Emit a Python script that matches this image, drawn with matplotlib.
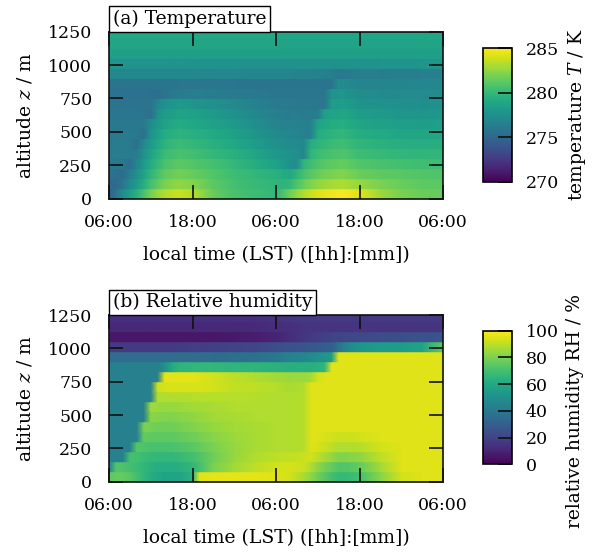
"""Two-panel time-height plot: temperature and relative humidity (viridis)."""

import matplotlib
import numpy as np

matplotlib.use("Agg")
import matplotlib.pyplot as plt

plt.rcParams["font.family"] = "DejaVu Serif"
plt.rcParams["mathtext.fontset"] = "dejavuserif"

# ---------------------------------------------------------------------------
# Data
# ---------------------------------------------------------------------------
# hours after 06:00 LST of the first day
hours_t = [0, 1, 2, 3, 4, 5, 6, 7, 8, 10, 12, 15, 18, 21, 24,
           25, 26, 27, 28, 29, 30, 31, 32, 33, 34, 36, 39, 42, 45, 48]
hours_rh = [0, 1, 2, 3, 4, 5, 6, 7, 8, 9, 10, 12, 13, 15, 18, 21, 24,
            26, 28, 29, 30, 31, 32, 33, 34, 36, 39, 42, 45, 48]

# model level edges (m), one band per row below
level_edges = [0, 75, 150, 225, 300, 375, 450, 525, 600, 675, 750,
               825, 900, 975, 1050, 1125, 1200, 1275]

# temperature (K), bottom level first, columns follow hours_t
temp_k = [
    [274.4, 275.9, 277.3, 278.4, 279.5, 280.7, 281.8, 282.6, 283.3, 283.8,
     283.3, 281.5, 280.7, 280.3, 280.0, 280.8, 281.7, 282.5, 283.3, 283.8,
     284.2, 284.5, 284.7, 284.8, 284.8, 284.3, 282.8, 282.0, 281.6, 281.5],
    [275.0, 275.2, 276.0, 277.2, 278.2, 279.4, 280.5, 281.3, 282.0, 282.5,
     282.2, 281.2, 280.5, 280.1, 279.8, 279.7, 280.0, 280.8, 281.6, 282.1,
     282.5, 282.8, 283.0, 283.1, 283.1, 282.6, 282.0, 281.6, 281.3, 281.2],
    [275.6, 275.6, 275.3, 276.5, 277.5, 278.7, 279.8, 280.6, 281.3, 281.8,
     281.5, 280.9, 280.3, 279.9, 279.5, 279.2, 279.0, 279.8, 280.6, 281.1,
     281.5, 281.8, 282.0, 282.1, 282.1, 281.6, 281.3, 281.1, 280.9, 280.8],
    [276.0, 276.0, 276.0, 275.5, 276.9, 278.1, 279.2, 280.0, 280.7, 281.2,
     281.0, 280.5, 280.0, 279.3, 278.6, 278.2, 277.6, 277.3, 279.9, 280.4,
     280.8, 281.1, 281.3, 281.4, 281.4, 280.9, 280.7, 280.5, 280.4, 280.3],
    [276.2, 276.2, 276.2, 276.2, 276.3, 277.6, 278.7, 279.5, 280.2, 280.7,
     280.5, 280.0, 279.5, 278.8, 278.0, 277.8, 277.7, 277.5, 276.9, 279.8,
     280.2, 280.5, 280.7, 280.8, 280.8, 280.3, 280.1, 279.9, 279.8, 279.8],
    [276.2, 276.2, 276.2, 276.2, 275.5, 277.1, 278.2, 279.0, 279.7, 280.2,
     280.0, 279.5, 279.0, 278.3, 277.5, 277.4, 277.3, 277.2, 277.0, 279.3,
     279.7, 280.0, 280.2, 280.3, 280.3, 279.8, 279.6, 279.4, 279.3, 279.4],
    [276.1, 276.1, 276.1, 276.1, 276.1, 275.5, 277.7, 278.5, 279.2, 279.7,
     279.5, 279.1, 278.6, 277.8, 277.1, 277.0, 276.9, 276.8, 276.6, 276.5,
     279.2, 279.5, 279.7, 279.8, 279.8, 279.3, 279.1, 278.9, 278.8, 279.0],
    [276.0, 276.0, 276.0, 276.0, 276.0, 276.0, 277.2, 278.0, 278.7, 279.2,
     279.0, 278.6, 278.1, 277.4, 276.8, 276.7, 276.6, 276.6, 276.5, 276.5,
     278.7, 279.0, 279.2, 279.3, 279.3, 278.8, 278.6, 278.4, 278.3, 278.5],
    [275.9, 275.9, 275.9, 275.9, 275.9, 275.9, 275.5, 277.5, 278.2, 278.7,
     278.5, 278.1, 277.6, 277.0, 276.5, 276.4, 276.3, 276.3, 276.2, 276.2,
     276.2, 278.5, 278.7, 278.8, 278.8, 278.3, 278.1, 277.9, 277.8, 278.0],
    [275.7, 275.7, 275.7, 275.7, 275.7, 275.7, 275.7, 276.9, 277.6, 278.1,
     277.9, 277.6, 277.1, 276.6, 276.2, 276.1, 276.1, 276.1, 276.0, 276.0,
     276.0, 275.9, 278.2, 278.3, 278.3, 277.8, 277.6, 277.5, 277.4, 277.7],
    [275.6, 275.6, 275.6, 275.6, 275.6, 275.6, 275.6, 275.4, 275.8, 276.3,
     276.4, 276.3, 276.2, 276.1, 275.9, 275.9, 275.9, 275.9, 275.9, 275.9,
     275.9, 275.9, 277.7, 277.8, 277.8, 277.3, 277.2, 277.1, 277.1, 277.2],
    [275.8, 275.8, 275.8, 275.8, 275.8, 275.8, 275.8, 275.8, 275.8, 275.9,
     275.9, 275.9, 275.9, 275.8, 275.8, 275.8, 275.8, 275.8, 275.8, 275.8,
     275.8, 275.8, 275.7, 277.3, 277.2, 276.8, 276.8, 276.8, 276.9, 276.9],
    [277.0, 277.0, 277.0, 277.0, 277.0, 277.0, 277.0, 277.0, 277.0, 277.0,
     277.0, 276.9, 276.9, 276.8, 276.8, 276.8, 276.8, 276.7, 276.7, 276.7,
     276.6, 276.5, 276.4, 276.0, 276.2, 276.3, 276.3, 276.4, 276.5, 276.5],
    [277.7, 277.7, 277.7, 277.7, 277.7, 277.7, 277.7, 277.7, 277.7, 277.7,
     277.7, 277.6, 277.6, 277.5, 277.5, 277.5, 277.5, 277.5, 277.5, 277.5,
     277.5, 277.5, 277.5, 277.6, 277.6, 277.6, 277.7, 277.7, 277.8, 277.8],
    [278.4, 278.4, 278.4, 278.4, 278.4, 278.4, 278.4, 278.4, 278.4, 278.4,
     278.4, 278.4, 278.4, 278.4, 278.4, 278.4, 278.4, 278.4, 278.4, 278.4,
     278.4, 278.4, 278.4, 278.4, 278.4, 278.4, 278.4, 278.4, 278.4, 278.4],
    [278.8, 278.8, 278.8, 278.8, 278.8, 278.8, 278.8, 278.8, 278.8, 278.8,
     278.8, 278.8, 278.8, 278.8, 278.8, 278.7, 278.7, 278.7, 278.7, 278.7,
     278.7, 278.7, 278.7, 278.7, 278.7, 278.7, 278.7, 278.7, 278.7, 278.7],
    [279.0, 279.0, 279.0, 279.0, 279.0, 279.0, 279.0, 279.0, 279.0, 279.0,
     279.0, 279.0, 279.0, 279.0, 279.0, 278.9, 278.9, 278.9, 278.9, 278.9,
     278.9, 278.9, 278.9, 278.9, 278.9, 278.9, 278.9, 278.9, 278.9, 278.9],
]

# relative humidity (%), bottom level first, columns follow hours_rh
rel_hum = [
    [75, 76, 76, 74, 70, 66, 62, 60, 58, 58, 58, 64, 95, 96, 96, 96, 95,
     93, 87, 83, 78, 74, 70, 67, 67, 70, 82, 93, 95, 95],
    [43, 72, 72, 70, 68, 66, 64, 62, 62, 62, 63, 66, 70, 80, 86, 90, 93,
     94, 92, 88, 83, 79, 76, 73, 73, 76, 86, 95, 95, 95],
    [43, 43, 43, 70, 70, 68, 67, 66, 66, 66, 67, 70, 72, 78, 84, 88, 90,
     91, 92, 93, 90, 87, 84, 81, 81, 83, 90, 95, 95, 95],
    [43, 43, 43, 43, 73, 72, 71, 71, 71, 71, 72, 74, 76, 80, 84, 87, 88,
     88, 89, 95, 94, 92, 90, 88, 88, 89, 93, 95, 95, 95],
    [43, 43, 43, 43, 43, 76, 75, 75, 75, 75, 76, 78, 79, 82, 85, 87, 88,
     88, 89, 95, 95, 94, 93, 92, 92, 93, 95, 95, 95, 95],
    [43, 43, 43, 43, 43, 79, 79, 78, 78, 78, 79, 81, 82, 84, 86, 87, 88,
     88, 89, 95, 95, 95, 95, 95, 95, 95, 95, 95, 95, 95],
    [43, 43, 43, 43, 43, 43, 82, 82, 81, 81, 82, 83, 84, 86, 87, 88, 88,
     88, 89, 95, 95, 95, 95, 95, 95, 95, 95, 95, 95, 95],
    [43, 43, 43, 43, 43, 43, 85, 85, 84, 84, 85, 86, 86, 87, 88, 88, 88,
     88, 89, 95, 95, 95, 95, 95, 95, 95, 95, 95, 95, 95],
    [43, 43, 43, 43, 43, 43, 43, 88, 88, 88, 88, 89, 89, 89, 89, 89, 88,
     88, 89, 95, 95, 95, 95, 95, 95, 95, 95, 95, 95, 95],
    [43, 43, 43, 43, 43, 43, 43, 92, 94, 94, 94, 94, 94, 93, 91, 90, 89,
     87, 88, 95, 95, 95, 95, 95, 95, 95, 95, 95, 95, 95],
    [43, 43, 43, 43, 43, 43, 43, 43, 96, 96, 96, 96, 95, 93, 90, 88, 86,
     85, 85, 86, 93, 95, 95, 95, 95, 95, 95, 95, 95, 95],
    [43, 43, 43, 43, 43, 43, 43, 43, 50, 60, 65, 66, 66, 66, 65, 65, 64,
     63, 63, 63, 64, 66, 95, 95, 95, 95, 95, 95, 95, 95],
    [35, 35, 35, 35, 35, 35, 35, 35, 35, 35, 35, 35, 35, 35, 36, 37, 40,
     44, 46, 48, 50, 52, 55, 95, 95, 95, 95, 95, 95, 95],
    [17, 17, 17, 17, 17, 17, 17, 17, 17, 17, 17, 18, 18, 19, 20, 21, 24,
     25, 26, 27, 28, 29, 30, 38, 45, 52, 55, 55, 58, 75],
    [6, 6, 6, 6, 6, 6, 6, 6, 6, 6, 6, 6, 6, 6, 7, 8, 10,
     13, 16, 17, 18, 19, 20, 20, 21, 22, 23, 24, 25, 26],
    [11, 11, 11, 11, 11, 11, 11, 11, 11, 11, 11, 11, 11, 11, 11, 12, 13,
     14, 15, 15, 15, 15, 15, 15, 15, 15, 15, 15, 15, 15],
    [14, 14, 14, 14, 14, 14, 14, 14, 14, 14, 14, 14, 14, 14, 14, 14, 15,
     16, 17, 17, 17, 17, 17, 17, 17, 17, 17, 17, 17, 17],
]

time_ticks = [0, 12, 24, 36, 48]
time_labels = ["06:00", "18:00", "06:00", "18:00", "06:00"]
alt_ticks = [0, 250, 500, 750, 1000, 1250]
temp_cbar_ticks = [270, 275, 280, 285]
rh_cbar_ticks = [0, 20, 40, 60, 80, 100]

TICK_FS = 12.5
LABEL_FS = 13.5


def band_mesh(hours, edges, rows):
    """Mesh for gouraud shading: smooth in time, sharp steps between levels."""
    vals = np.asarray(rows, dtype=float)
    edges = np.asarray(edges, dtype=float)
    ys = np.column_stack([edges[:-1], edges[1:]]).ravel()
    X, Y = np.meshgrid(np.asarray(hours, dtype=float), ys)
    C = np.repeat(vals, 2, axis=0)
    return X, Y, C


def draw_panel(fig, ax_rect, cax_rect, hours, rows, vmin, vmax, title,
               cbar_ticks, cbar_label, cbar_label_y=0.5):
    ax = fig.add_axes(ax_rect)
    X, Y, C = band_mesh(hours, level_edges, rows)
    mesh = ax.pcolormesh(X, Y, C, shading="gouraud", cmap="viridis",
                         vmin=vmin, vmax=vmax, antialiased=False)
    ax.set_xlim(0, 48)
    ax.set_ylim(0, 1250)
    ax.set_xticks(time_ticks)
    ax.set_xticklabels(time_labels)
    ax.set_yticks(alt_ticks)
    ax.tick_params(axis="both", direction="in", top=True, right=True,
                   length=10, width=1.2, labelsize=TICK_FS, color="#111111")
    ax.tick_params(axis="x", pad=11)
    ax.tick_params(axis="y", pad=12)
    for sp in ax.spines.values():
        sp.set_linewidth(1.2)
        sp.set_color("#111111")
    ax.set_xlabel("local time (LST) ([hh]:[mm])", fontsize=LABEL_FS,
                  labelpad=11)
    ax.set_ylabel("altitude $z$ / m", fontsize=LABEL_FS, labelpad=10)

    ax.annotate(title, xy=(0, 1), xycoords="axes fraction",
                xytext=(2.6, 2.6), textcoords="offset points",
                ha="left", va="bottom", fontsize=LABEL_FS,
                bbox=dict(boxstyle="square,pad=0.19", fc="white",
                          ec="black", lw=1.0))

    cax = fig.add_axes(cax_rect)
    cb = fig.colorbar(mesh, cax=cax)
    cb.set_ticks(cbar_ticks)
    cb.outline.set_linewidth(1.2)
    cb.ax.tick_params(direction="in", length=10, width=1.2,
                      labelsize=TICK_FS, pad=10, color="#111111")
    cb.set_label(cbar_label, fontsize=LABEL_FS, labelpad=5)
    cb.ax.yaxis.label.set_y(cbar_label_y)
    return ax, cb


fig = plt.figure(figsize=(5.94, 5.58), dpi=100)

draw_panel(fig, [0.1835, 0.6439, 0.5623, 0.2993],
           [0.8126, 0.6744, 0.0488, 0.2391],
           hours_t, temp_k, 270, 285, "(a) Temperature",
           temp_cbar_ticks, "temperature $T$ / K")

draw_panel(fig, [0.1835, 0.1367, 0.5623, 0.2987],
           [0.8126, 0.1679, 0.0488, 0.2394],
           hours_rh, rel_hum, 0, 100, "(b) Relative humidity",
           rh_cbar_ticks, "relative humidity RH / %", cbar_label_y=0.4)

fig.savefig("out.png", dpi=100)
plt.close(fig)
